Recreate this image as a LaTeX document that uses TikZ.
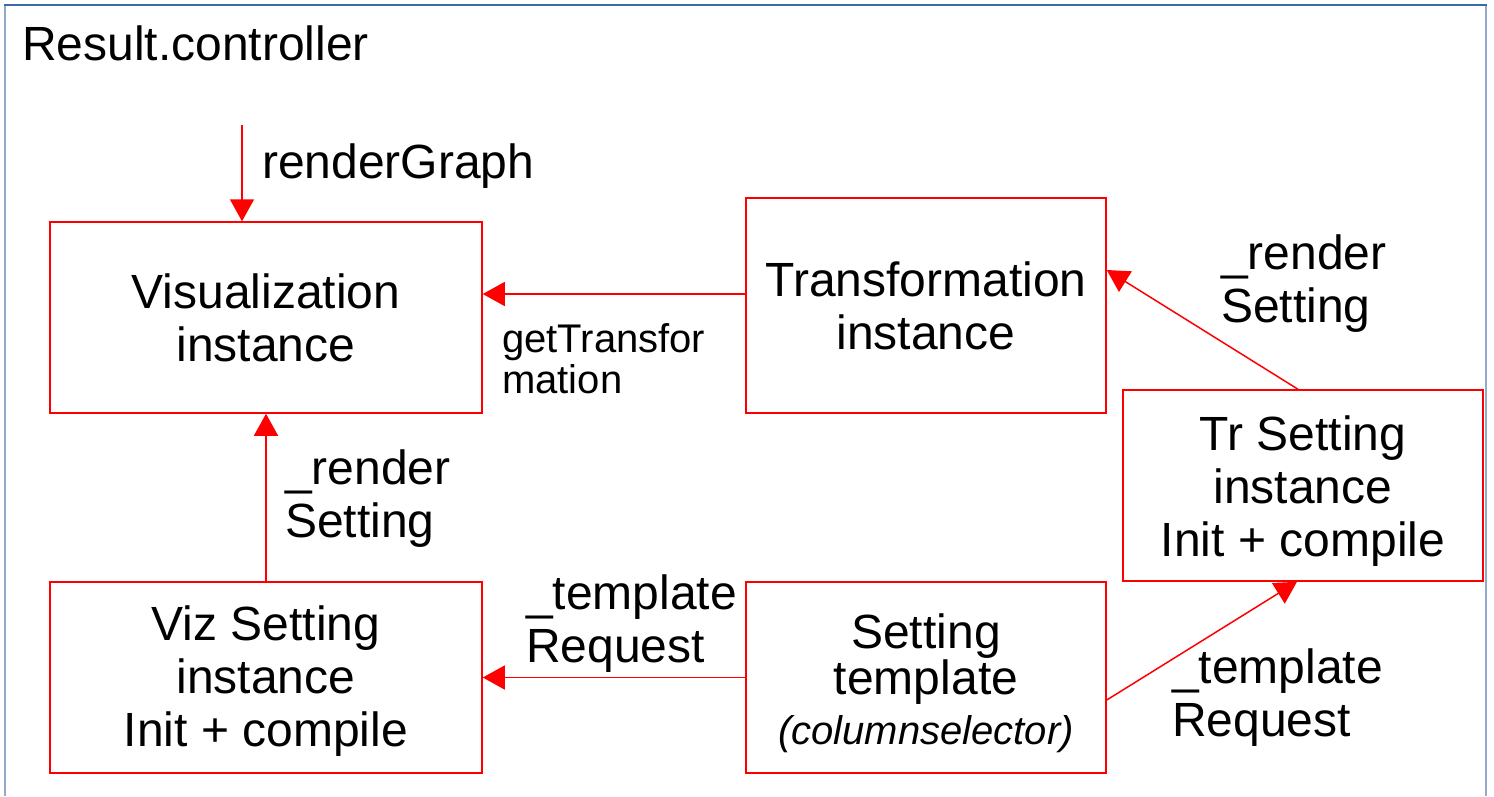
\documentclass[tikz,border=0pt]{standalone}
\usepackage{fontspec}
\setmainfont{Liberation Sans}
\usetikzlibrary{arrows.meta}
\definecolor{boxred}{HTML}{FF0000}
\definecolor{frametop}{HTML}{3C6AA8}
\definecolor{frameside}{HTML}{94AACB}
\tikzset{
  box/.style={draw=boxred, line width=1.5pt, inner sep=0pt, align=center,
    font=\fontsize{48}{53}\selectfont},
  lbl/.style={anchor=base west, inner sep=0pt, align=left,
    font=\fontsize{48}{53}\selectfont},
  smalllbl/.style={anchor=base west, inner sep=0pt, align=left,
    font=\fontsize{40}{41}\selectfont},
  conn/.style={draw=boxred, line width=1.5pt, -{Triangle[width=24pt,length=22pt]}},
}
\begin{document}
\begin{tikzpicture}[x=1pt,y=-1pt]
\useasboundingbox (0,0) rectangle (1494,796);
% frame
\draw[frameside, line width=2.5pt] (5,5) -- (5,796);
\draw[frameside, line width=2.5pt] (1486,5) -- (1486,796);
\draw[frametop, line width=2pt] (4,5) -- (1487,5);
\node[lbl] (title) at (22,60) {Result.controller};

% boxes
\node[box, minimum width=432pt, minimum height=191pt] (viz) at (266,317.5) {Visualization\\instance};
\node[box, minimum width=360pt, minimum height=215pt] (tr) at (926,305.5) {Transformation\\instance};
\node[box, minimum width=360pt, minimum height=191pt] (trs) at (1303,485.5) {\rule{0pt}{45pt}Tr Setting\\instance\\Init + compile};
\node[box, minimum width=432pt, minimum height=191pt] (vizs) at (266,677.5) {\rule{0pt}{41pt}Viz Setting\\instance\\Init + compile};
\node[box, minimum width=360pt, minimum height=191pt, font=\fontsize{48}{46}\selectfont] (st) at (926,677.5) {\rule{0pt}{47pt}Setting\\template\\[4pt]{\fontsize{40}{46}\selectfont\itshape (columnselector)}};

% connectors
\coordinate (rgstart) at (242,125);
\draw[conn] (rgstart) -- (rgstart |- viz.north);
\node[lbl] (rg) at (262,178) {renderGraph};

\draw[conn] (tr.west |- 0,294) -- (viz.east |- 0,294);
\node[smalllbl] (gt) at (502,393) {getTransfor\\mation};

\draw[conn] (vizs.north) -- (viz.south);
\node[lbl] (rs1) at (285,537) {\_render\\Setting};

\draw[conn] (trs.north -| 1298,0) -- (tr.east |- 0,270);
\node[lbl] (rs2) at (1221,322) {\_render\\Setting};

\draw[conn] (st.west) -- (vizs.east);
\node[lbl] (tq1) at (526,662) {\_template\\Request};

\draw[conn] (st.east |- 0,700) -- (trs.south -| 1297,0);
\node[lbl] (tq2) at (1172,736) {\_template\\Request};
\end{tikzpicture}
\end{document}
